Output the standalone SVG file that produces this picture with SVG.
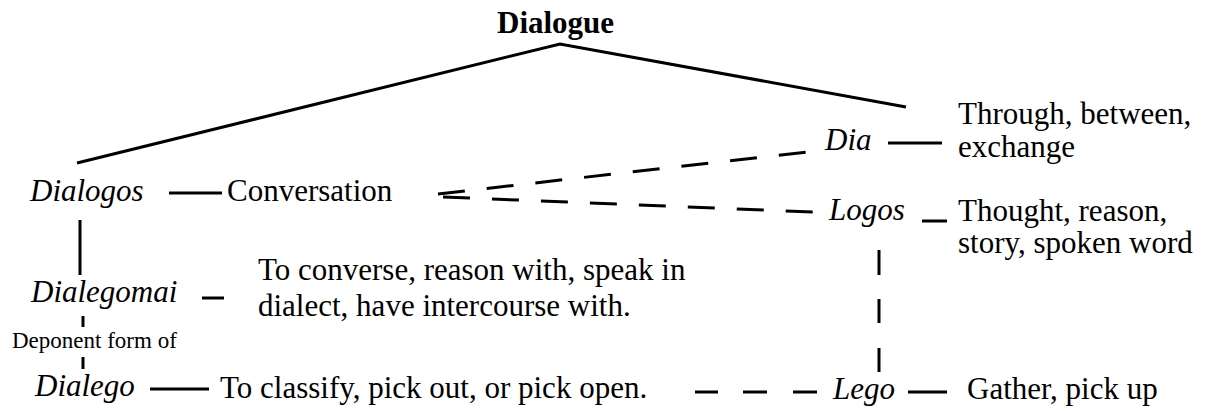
<svg xmlns="http://www.w3.org/2000/svg" width="1221" height="411" viewBox="0 0 1221 411">
<rect width="1221" height="411" fill="#fff"/>
<g id="connectors" stroke="#000" stroke-width="3" fill="none">
<polyline points="77,163 560,44 906,107"/>
<line x1="169" y1="193" x2="222" y2="193"/>
<line x1="888" y1="143" x2="942" y2="143"/>
<line x1="922" y1="221" x2="947" y2="221"/>
<line x1="80" y1="220" x2="80" y2="275"/>
<line x1="202" y1="298" x2="224" y2="298"/>
<line x1="83" y1="316" x2="83" y2="327"/>
<line x1="83" y1="357" x2="83" y2="369"/>
<line x1="150" y1="389" x2="209" y2="389"/>
<line x1="695" y1="392" x2="718" y2="392"/>
<line x1="743" y1="392" x2="767" y2="392"/>
<line x1="793" y1="392" x2="817" y2="392"/>
<line x1="908" y1="392" x2="947" y2="392"/>
<line x1="879" y1="250" x2="879" y2="275"/>
<line x1="879" y1="299" x2="879" y2="323"/>
<line x1="879" y1="348" x2="879" y2="372"/>
<line x1="438" y1="194" x2="807" y2="152" stroke-dasharray="27 22"/>
<line x1="443" y1="197" x2="813" y2="212" stroke-dasharray="27 22"/>
</g>
<text id="dialogue" x="497" y="33" font-family="Liberation Serif" font-size="31" font-weight="bold">Dialogue</text>
<text id="dialogos" x="30" y="201" font-family="Liberation Serif" font-size="31" font-style="italic">Dialogos</text>
<text id="conversation" x="227" y="201" font-family="Liberation Serif" font-size="31">Conversation</text>
<text id="dia" x="825" y="150" font-family="Liberation Serif" font-size="31" font-style="italic">Dia</text>
<text id="dia-def-1" x="958" y="124" font-family="Liberation Serif" font-size="31">Through, between,</text>
<text id="dia-def-2" x="958" y="157" font-family="Liberation Serif" font-size="31">exchange</text>
<text id="logos" x="829" y="220" font-family="Liberation Serif" font-size="31" font-style="italic">Logos</text>
<text id="logos-def-1" x="958" y="221" font-family="Liberation Serif" font-size="31">Thought, reason,</text>
<text id="logos-def-2" x="958" y="253" font-family="Liberation Serif" font-size="31">story, spoken word</text>
<text id="dialegomai" x="31" y="302" font-family="Liberation Serif" font-size="31" font-style="italic">Dialegomai</text>
<text id="dialegomai-def-1" x="258" y="280" font-family="Liberation Serif" font-size="31">To converse, reason with, speak in</text>
<text id="dialegomai-def-2" x="258" y="316" font-family="Liberation Serif" font-size="31">dialect, have intercourse with.</text>
<text id="deponent" x="12" y="348" font-family="Liberation Serif" font-size="23">Deponent form of</text>
<text id="dialego" x="35" y="396" font-family="Liberation Serif" font-size="31" font-style="italic">Dialego</text>
<text id="dialego-def" x="220" y="398" font-family="Liberation Serif" font-size="31">To classify, pick out, or pick open.</text>
<text id="lego" x="833" y="399" font-family="Liberation Serif" font-size="31" font-style="italic">Lego</text>
<text id="lego-def" x="967" y="399" font-family="Liberation Serif" font-size="31">Gather, pick up</text>
</svg>
